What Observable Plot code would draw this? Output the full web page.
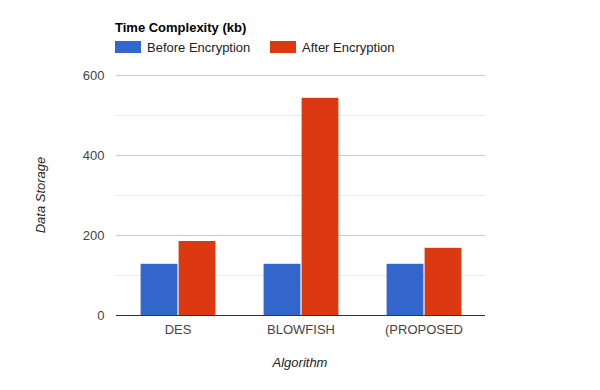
<!DOCTYPE html>
<html>
<head>
<meta charset="utf-8">
<script src="https://cdn.jsdelivr.net/npm/d3@7"></script>
<script src="https://cdn.jsdelivr.net/npm/@observablehq/plot@0.6"></script>
<style>
  html, body { margin: 0; padding: 0; background: #fff; }
  #chart { position: relative; width: 600px; height: 390px; font-family: "Liberation Sans", Arial, sans-serif; }
  #chart svg { position: absolute; left: 0; top: 0; }
  .title { position: absolute; left: 115px; top: 21px; font-size: 13px; line-height: 13px; font-weight: bold; color: #000; white-space: nowrap; }
  .legend { position: absolute; top: 41px; left: 115px; font-size: 13px; line-height: 13px; color: #222; white-space: nowrap; }
  .legend .item { position: absolute; top: 0; white-space: nowrap; }
  .legend .sw { position: absolute; top: 0; width: 26px; height: 12px; }
  .legend .lab { position: absolute; top: 0; left: 32px; }
  .ytitle { position: absolute; left: 40px; top: 195px; font-size: 13px; line-height: 13px; font-style: italic; color: #222; white-space: nowrap; transform: translate(-50%, -50%) rotate(-90deg); }
  .xtitle { position: absolute; left: 300px; top: 356px; font-size: 13px; line-height: 13px; font-style: italic; color: #222; white-space: nowrap; transform: translateX(-50%); }
</style>
</head>
<body>
<div id="chart"></div>
<script>
// Algorithms compared and the two measured series
const algorithms = ["DES", "BLOWFISH", "(PROPOSED"];
const seriesNames = ["Before Encryption", "After Encryption"];
const beforeEncryption = [128, 128, 128];
const afterEncryption = [185, 543, 168];
const seriesColors = ["#3366cc", "#dc3912"];
const yTicks = [0, 200, 400, 600];
const yMinorGrid = [100, 300, 500];
const yMajorGrid = [200, 400, 600];

const rows = algorithms.flatMap((a, i) => [
  {algorithm: a, series: seriesNames[0], value: beforeEncryption[i]},
  {algorithm: a, series: seriesNames[1], value: afterEncryption[i]}
]);

const plot = Plot.plot({
  width: 600,
  height: 390,
  marginLeft: 115,
  marginRight: 115,
  marginTop: 75,
  marginBottom: 75,
  style: {fontFamily: "Liberation Sans, Arial, sans-serif", fontSize: "13px", color: "#444", background: "transparent"},
  fx: {
    domain: algorithms,
    paddingInner: 0,
    paddingOuter: 0,
    label: null,
    axis: "bottom",
    tickSize: 0,
    tickPadding: 9
  },
  x: {domain: seriesNames, paddingInner: 0, paddingOuter: 0.6, axis: null},
  y: {
    domain: [0, 600],
    ticks: yTicks,
    tickSize: 0,
    tickPadding: 12,
    label: null
  },
  color: {domain: seriesNames, range: seriesColors},
  facet: {data: rows, x: "algorithm"},
  marks: [
    Plot.ruleY(yMinorGrid, {stroke: "#ebebeb", strokeWidth: 1}),
    Plot.ruleY(yMajorGrid, {stroke: "#cccccc", strokeWidth: 1}),
    Plot.barY(rows, {x: "series", y: "value", fill: "series", insetLeft: 0.6, insetRight: 0.6}),
    Plot.ruleY([0], {stroke: "#333333", strokeWidth: 1})
  ]
});

const chart = document.getElementById("chart");
chart.appendChild(plot);

const title = document.createElement("div");
title.className = "title";
title.textContent = "Time Complexity (kb)";
chart.appendChild(title);

const legend = document.createElement("div");
legend.className = "legend";
const legendOffsets = [0, 155];
seriesNames.forEach((name, i) => {
  const item = document.createElement("div");
  item.className = "item";
  item.style.left = legendOffsets[i] + "px";
  const sw = document.createElement("div");
  sw.className = "sw";
  sw.style.background = seriesColors[i];
  const lab = document.createElement("div");
  lab.className = "lab";
  lab.textContent = name;
  item.appendChild(sw);
  item.appendChild(lab);
  legend.appendChild(item);
});
chart.appendChild(legend);

const ytitle = document.createElement("div");
ytitle.className = "ytitle";
ytitle.textContent = "Data Storage";
chart.appendChild(ytitle);

const xtitle = document.createElement("div");
xtitle.className = "xtitle";
xtitle.textContent = "Algorithm";
chart.appendChild(xtitle);
</script>
</body>
</html>
